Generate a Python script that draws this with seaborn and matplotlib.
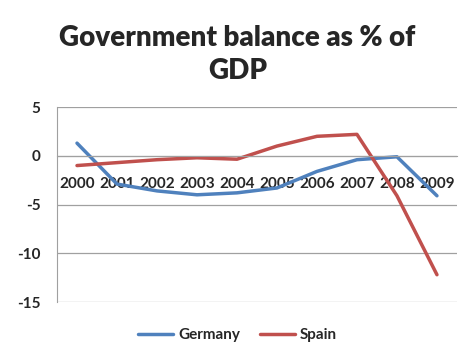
import pandas as pd
import matplotlib.pyplot as plt
import seaborn as sns

years = ['2000', '2001', '2002', '2003', '2004', '2005', '2006', '2007', '2008', '2009']
germany = [1.3, -2.9, -3.6, -4.0, -3.8, -3.3, -1.6, -0.4, -0.1, -4.1]
spain = [-1.0, -0.7, -0.4, -0.2, -0.35, 1.0, 2.0, 2.2, -4.1, -12.2]

sns.set_style('white')
plt.rcParams['font.family'] = ['Lato', 'DejaVu Sans']
plt.rcParams['font.weight'] = 'bold'
plt.rcParams['axes.unicode_minus'] = False

df = pd.DataFrame({
    'year': years * 2,
    'value': germany + spain,
    'country': ['Germany'] * len(years) + ['Spain'] * len(years),
})

fig = plt.figure(figsize=(4.75, 3.61), dpi=100)
ax = fig.add_axes([0.12, 0.1634, 0.842, 0.540])

sns.lineplot(data=df, x='year', y='value', hue='country',
             palette={'Germany': '#4F81BD', 'Spain': '#C0504D'},
             linewidth=2.5, ax=ax, legend=False)

ax.set_xlim(-0.5, 9.5)
ax.set_ylim(-15, 5)
ax.set_yticks([-15, -10, -5, 0, 5])
ax.yaxis.grid(True, color='#a0a0a0', linewidth=0.9)
ax.set_axisbelow(True)
ax.set_xlabel('')
ax.set_ylabel('')

for s in ['top', 'right']:
    ax.spines[s].set_visible(False)
ax.spines['left'].set_color('#a0a0a0')
ax.spines['bottom'].set_color('#a0a0a0')
ax.spines['bottom'].set_position(('data', 0))

ax.set_xticks(range(len(years)))
ax.set_xticklabels(years, fontsize=11, fontweight='bold')
ax.tick_params(axis='x', length=0, pad=15)
ax.set_xticks([i + 0.5 for i in range(-1, len(years))], minor=True)
ax.tick_params(axis='x', which='minor', length=4, color='#a0a0a0')
ax.tick_params(axis='y', length=4, color='#a0a0a0', labelsize=11, pad=8)
for t in ax.get_yticklabels():
    t.set_fontweight('bold')

fig.suptitle('Government balance as % of\nGDP', fontsize=20, fontweight='heavy',
             y=0.93, linespacing=1.3)

handles = [plt.Line2D([], [], color='#4F81BD', linewidth=2.5),
           plt.Line2D([], [], color='#C0504D', linewidth=2.5)]
fig.legend(handles, ['Germany', 'Spain'], loc='center', bbox_to_anchor=(0.5, 0.072),
           ncol=2, frameon=False, handlelength=2.3, handletextpad=0.3,
           columnspacing=1.3, prop={'weight': 'bold', 'size': 11})

fig.savefig('out.png', dpi=100)
